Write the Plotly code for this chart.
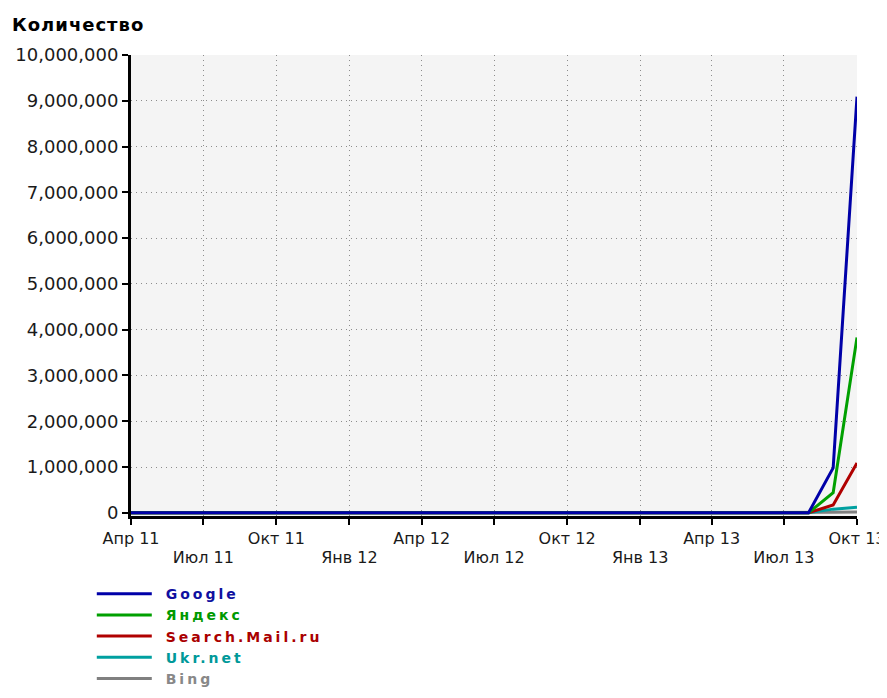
import plotly.graph_objects as go

# ---- data ----
months = [f"{y}-{m:02d}-01" for y, m in
          [(2011, m) for m in range(4, 13)] + [(2012, m) for m in range(1, 13)] + [(2013, m) for m in range(1, 11)]]
n_zero = len(months) - 3  # all zero until Aug 13
google = [0] * n_zero + [0, 980000, 9090000]
yandex = [0] * n_zero + [0, 440000, 3830000]
mail = [0] * n_zero + [0, 170000, 1090000]
ukr = [0] * n_zero + [0, 80000, 120000]
bing = [0] * n_zero + [0, 10000, 20000]

series_names = ["Google", "Яндекс", "Search.Mail.ru", "Ukr.net", "Bing"]
series_values = [google, yandex, mail, ukr, bing]
line_colors = ["#0000a8", "#00a000", "#b00000", "#00a0a0", "#808080"]
text_colors = ["#1010a0", "#009900", "#aa0000", "#009999", "#888888"]

tick_row1_vals = ["2011-04-01", "2011-10-01", "2012-04-01", "2012-10-01", "2013-04-01", "2013-10-01"]
tick_row1_text = ["Апр 11", "Окт 11", "Апр 12", "Окт 12", "Апр 13", "Окт 13"]
tick_row2_vals = ["2011-07-01", "2012-01-01", "2012-07-01", "2013-01-01", "2013-07-01"]
tick_row2_text = ["Июл 11", "Янв 12", "Июл 12", "Янв 13", "Июл 13"]
all_ticks = sorted(tick_row1_vals + tick_row2_vals)

y_ticks = list(range(0, 10000001, 1000000))

FONT = "DejaVu Sans, Verdana, sans-serif"
W, H = 879, 682  # page has an 8px body margin on every side

fig = go.Figure()
# draw in reverse so Google ends on top; legend reversed back
for name, vals, lc, tc in reversed(list(zip(series_names, series_values, line_colors, text_colors))):
    fig.add_trace(go.Scatter(
        x=months, y=vals, mode="lines",
        name=f"&nbsp;&nbsp;<b><span style='color:{tc};letter-spacing:3px'>{name}</span></b>",
        line=dict(color=lc, width=3),
    ))

# helper trace for the second row of x labels
fig.add_trace(go.Scatter(x=[], y=[], xaxis="x2", showlegend=False, hoverinfo="skip"))

fig.update_layout(
    width=W, height=H,
    margin=dict(l=123, r=30, t=47, b=174, autoexpand=False),
    paper_bgcolor="white",
    plot_bgcolor="#f4f4f4",
    font=dict(family=FONT, size=18, color="#1a1a1a"),
    showlegend=True,
    legend=dict(
        traceorder="reversed",
        x=-0.054, y=-0.1347, xanchor="left", yanchor="top",
        font=dict(family=FONT, size=14),
        itemwidth=55,
        bgcolor="rgba(0,0,0,0)",
        tracegroupgap=0,
    ),
    title=dict(
        text="<b><span style='letter-spacing:1px'>Количество</span></b>",
        x=4 / W, xref="container", xanchor="left",
        y=1 - 17 / H, yref="container", yanchor="middle",
        font=dict(family=FONT, size=18, color="black"),
    ),
    xaxis=dict(
        type="date",
        range=["2011-04-01", "2013-10-01"],
        tickmode="array", tickvals=all_ticks,
        ticktext=[tick_row1_text[tick_row1_vals.index(t)] if t in tick_row1_vals else "" for t in all_ticks],
        ticks="outside", ticklen=6, tickwidth=2, tickcolor="black",
        showline=True, linewidth=3, linecolor="black",
        showgrid=True, gridcolor="#8c8c8c", griddash="1px,4px", gridwidth=1,
        zeroline=False, ticklabeloverflow="allow",
        tickfont=dict(family=FONT, size=16, color="#1a1a1a"),
    ),
    xaxis2=dict(
        type="date",
        overlaying="x", matches="x", anchor="y", side="bottom",
        range=["2011-04-01", "2013-10-01"],
        tickmode="array", tickvals=tick_row2_vals, ticktext=tick_row2_text,
        ticks="", showline=False, showgrid=False, zeroline=False,
        ticklabelstandoff=30, ticklabeloverflow="allow",
        tickfont=dict(family=FONT, size=16, color="#1a1a1a"),
    ),
    yaxis=dict(
        range=[-70000, 10000000],
        tickmode="array", tickvals=y_ticks, tickformat=",",
        ticks="outside", ticklen=6, tickwidth=2, tickcolor="black",
        showline=True, linewidth=3, linecolor="black",
        showgrid=True, gridcolor="#8c8c8c", griddash="1px,4px", gridwidth=1,
        zeroline=False,
        tickfont=dict(family=FONT, size=18, color="#1a1a1a"),
    ),
)

fig.write_html("out.html")
